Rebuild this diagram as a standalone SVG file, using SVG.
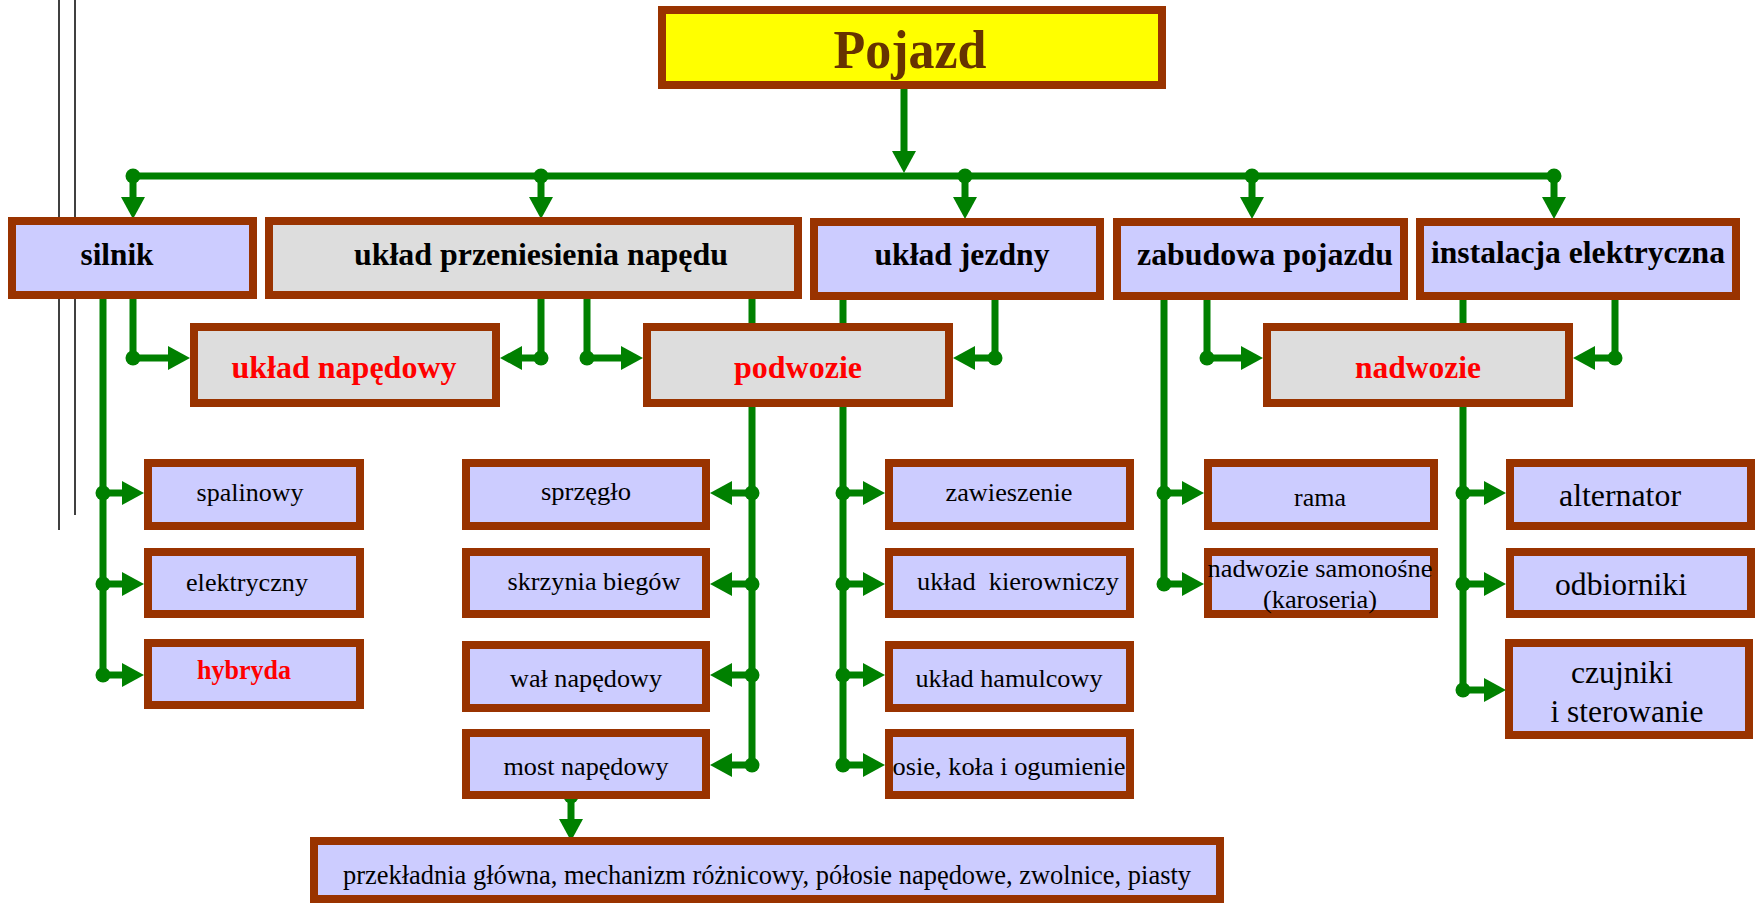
<svg xmlns="http://www.w3.org/2000/svg" width="1760" height="903" viewBox="0 0 1760 903">
<style>
.box{stroke:#993300;stroke-width:8}
.blue{fill:#CCCCFF}
.gray{fill:#DDDDDD}
.yel{fill:#FFFF00}
.t{font-family:"Liberation Serif","Times New Roman",serif;text-anchor:middle;fill:#000}
.b{font-weight:bold}
.red{fill:#FF0000}
.c{fill:none;stroke:#008000;stroke-width:7}
.dot{fill:#008000}
</style>
<defs>
<marker id="arr" markerUnits="userSpaceOnUse" markerWidth="24" markerHeight="26" refX="1" refY="12" orient="auto" viewBox="0 0 24 26">
<path d="M0,0 L22,12 L0,24 z" fill="#008000"/>
</marker>
</defs>
<g id="side-lines" stroke="#000" stroke-width="1.5">
<line x1="59" y1="0" x2="59" y2="530"/>
<line x1="75" y1="0" x2="75" y2="515"/>
</g>
<g id="connectors">
<path class="c" d="M904,86 V152" marker-end="url(#arr)"/>
<path class="c" d="M133,176 H1554"/>
<path class="c" d="M133,176 V198" marker-end="url(#arr)"/>
<path class="c" d="M541,176 V198" marker-end="url(#arr)"/>
<path class="c" d="M965,176 V198" marker-end="url(#arr)"/>
<path class="c" d="M1252,176 V198" marker-end="url(#arr)"/>
<path class="c" d="M1554,176 V198" marker-end="url(#arr)"/>
<path class="c" d="M133,299 V358 H169" marker-end="url(#arr)"/>
<path class="c" d="M541,299 V358 H521" marker-end="url(#arr)"/>
<path class="c" d="M587,299 V358 H622" marker-end="url(#arr)"/>
<path class="c" d="M995,300 V358 H974" marker-end="url(#arr)"/>
<path class="c" d="M1207,300 V358 H1242" marker-end="url(#arr)"/>
<path class="c" d="M1615,300 V358 H1594" marker-end="url(#arr)"/>
<path class="c" d="M103,299 V675"/>
<path class="c" d="M103,493 H123" marker-end="url(#arr)"/>
<path class="c" d="M103,584 H123" marker-end="url(#arr)"/>
<path class="c" d="M103,675 H123" marker-end="url(#arr)"/>
<path class="c" d="M752,299 V765"/>
<path class="c" d="M752,493 H731" marker-end="url(#arr)"/>
<path class="c" d="M752,584 H731" marker-end="url(#arr)"/>
<path class="c" d="M752,675 H731" marker-end="url(#arr)"/>
<path class="c" d="M752,765 H731" marker-end="url(#arr)"/>
<path class="c" d="M843,300 V765"/>
<path class="c" d="M843,493 H864" marker-end="url(#arr)"/>
<path class="c" d="M843,584 H864" marker-end="url(#arr)"/>
<path class="c" d="M843,675 H864" marker-end="url(#arr)"/>
<path class="c" d="M843,765 H864" marker-end="url(#arr)"/>
<path class="c" d="M1164,300 V584"/>
<path class="c" d="M1164,493 H1183" marker-end="url(#arr)"/>
<path class="c" d="M1164,584 H1183" marker-end="url(#arr)"/>
<path class="c" d="M1463,300 V690"/>
<path class="c" d="M1463,493 H1485" marker-end="url(#arr)"/>
<path class="c" d="M1463,584 H1485" marker-end="url(#arr)"/>
<path class="c" d="M1463,690 H1485" marker-end="url(#arr)"/>
<path class="c" d="M571,796 V820" marker-end="url(#arr)"/>
<g class="dot">
<circle cx="133" cy="176" r="7.5"/><circle cx="541" cy="176" r="7.5"/><circle cx="965" cy="176" r="7.5"/><circle cx="1252" cy="176" r="7.5"/><circle cx="1554" cy="176" r="7.5"/>
<circle cx="133" cy="358" r="7.5"/><circle cx="541" cy="358" r="7.5"/><circle cx="587" cy="358" r="7.5"/><circle cx="995" cy="358" r="7.5"/><circle cx="1207" cy="358" r="7.5"/><circle cx="1615" cy="358" r="7.5"/>
<circle cx="103" cy="493" r="7.5"/><circle cx="103" cy="584" r="7.5"/><circle cx="103" cy="675" r="7.5"/>
<circle cx="752" cy="493" r="7.5"/><circle cx="752" cy="584" r="7.5"/><circle cx="752" cy="675" r="7.5"/><circle cx="752" cy="765" r="7.5"/>
<circle cx="843" cy="493" r="7.5"/><circle cx="843" cy="584" r="7.5"/><circle cx="843" cy="675" r="7.5"/><circle cx="843" cy="765" r="7.5"/>
<circle cx="1164" cy="493" r="7.5"/><circle cx="1164" cy="584" r="7.5"/>
<circle cx="1463" cy="493" r="7.5"/><circle cx="1463" cy="584" r="7.5"/><circle cx="1463" cy="690" r="7.5"/>
<circle cx="571" cy="796" r="7.5"/>
</g>
</g>
<g id="pojazd"><rect class="box yel" x="662" y="10" width="500" height="75"/><text class="t b" x="910" y="68" font-size="54" style="fill:#663300" textLength="153" lengthAdjust="spacingAndGlyphs">Pojazd</text></g>
<g id="silnik"><rect class="box blue" x="12" y="221" width="241" height="74"/><text class="t b" x="117" y="265" font-size="31" textLength="73" lengthAdjust="spacingAndGlyphs">silnik</text></g>
<g id="uklad-przeniesienia"><rect class="box gray" x="269" y="221" width="529" height="74"/><text class="t b" x="541" y="265" font-size="31" textLength="374" lengthAdjust="spacingAndGlyphs">układ przeniesienia napędu</text></g>
<g id="uklad-jezdny"><rect class="box blue" x="814" y="222" width="286" height="74"/><text class="t b" x="962" y="265" font-size="31" textLength="175" lengthAdjust="spacingAndGlyphs">układ jezdny</text></g>
<g id="zabudowa"><rect class="box blue" x="1117" y="222" width="287" height="74"/><text class="t b" x="1265" y="265" font-size="31" textLength="256" lengthAdjust="spacingAndGlyphs">zabudowa pojazdu</text></g>
<g id="instalacja"><rect class="box blue" x="1420" y="222" width="316" height="74"/><text class="t b" x="1578" y="263" font-size="31" textLength="294" lengthAdjust="spacingAndGlyphs">instalacja elektryczna</text></g>
<g id="uklad-napedowy"><rect class="box gray" x="194" y="327" width="302" height="76"/><text class="t b red" x="344" y="378" font-size="32" textLength="225" lengthAdjust="spacingAndGlyphs">układ napędowy</text></g>
<g id="podwozie"><rect class="box gray" x="647" y="327" width="302" height="76"/><text class="t b red" x="798" y="378" font-size="32" textLength="128" lengthAdjust="spacingAndGlyphs">podwozie</text></g>
<g id="nadwozie"><rect class="box gray" x="1267" y="327" width="302" height="76"/><text class="t b red" x="1418" y="378" font-size="32" textLength="126" lengthAdjust="spacingAndGlyphs">nadwozie</text></g>
<g id="spalinowy"><rect class="box blue" x="148" y="463" width="212" height="63"/><text class="t" x="250" y="501" font-size="26" textLength="107" lengthAdjust="spacingAndGlyphs">spalinowy</text></g>
<g id="elektryczny"><rect class="box blue" x="148" y="552" width="212" height="62"/><text class="t" x="247" y="591" font-size="26" textLength="122" lengthAdjust="spacingAndGlyphs">elektryczny</text></g>
<g id="hybryda"><rect class="box blue" x="148" y="643" width="212" height="62"/><text class="t b red" x="244" y="679" font-size="27" textLength="94" lengthAdjust="spacingAndGlyphs">hybryda</text></g>
<g id="sprzeglo"><rect class="box blue" x="466" y="463" width="240" height="63"/><text class="t" x="586" y="500" font-size="26" textLength="90" lengthAdjust="spacingAndGlyphs">sprzęgło</text></g>
<g id="skrzynia"><rect class="box blue" x="466" y="552" width="240" height="62"/><text class="t" x="594" y="590" font-size="26" textLength="173" lengthAdjust="spacingAndGlyphs">skrzynia biegów</text></g>
<g id="wal"><rect class="box blue" x="466" y="645" width="240" height="63"/><text class="t" x="586" y="687" font-size="26" textLength="152" lengthAdjust="spacingAndGlyphs">wał napędowy</text></g>
<g id="most"><rect class="box blue" x="466" y="733" width="240" height="62"/><text class="t" x="586" y="775" font-size="26" textLength="165" lengthAdjust="spacingAndGlyphs">most napędowy</text></g>
<g id="zawieszenie"><rect class="box blue" x="889" y="463" width="241" height="63"/><text class="t" x="1009" y="501" font-size="26" textLength="127" lengthAdjust="spacingAndGlyphs">zawieszenie</text></g>
<g id="kierowniczy"><rect class="box blue" x="889" y="552" width="241" height="62"/><text class="t" x="1018" y="590" font-size="26" textLength="202" lengthAdjust="spacingAndGlyphs">układ&#160; kierowniczy</text></g>
<g id="hamulcowy"><rect class="box blue" x="889" y="645" width="241" height="63"/><text class="t" x="1009" y="687" font-size="26" textLength="187" lengthAdjust="spacingAndGlyphs">układ hamulcowy</text></g>
<g id="osie"><rect class="box blue" x="889" y="733" width="241" height="62"/><text class="t" x="1009" y="775" font-size="26" textLength="233" lengthAdjust="spacingAndGlyphs">osie, koła i ogumienie</text></g>
<g id="rama"><rect class="box blue" x="1208" y="463" width="226" height="63"/><text class="t" x="1320" y="506" font-size="26" textLength="52" lengthAdjust="spacingAndGlyphs">rama</text></g>
<g id="samonosne"><rect class="box blue" x="1208" y="552" width="226" height="62"/><text class="t" x="1320" y="577" font-size="26" textLength="225" lengthAdjust="spacingAndGlyphs">nadwozie samonośne</text><text class="t" x="1320" y="608" font-size="26" textLength="114" lengthAdjust="spacingAndGlyphs">(karoseria)</text></g>
<g id="alternator"><rect class="box blue" x="1510" y="463" width="241" height="63"/><text class="t" x="1620" y="506" font-size="31" textLength="122" lengthAdjust="spacingAndGlyphs">alternator</text></g>
<g id="odbiorniki"><rect class="box blue" x="1510" y="552" width="241" height="62"/><text class="t" x="1621" y="595" font-size="31" textLength="132" lengthAdjust="spacingAndGlyphs">odbiorniki</text></g>
<g id="czujniki"><rect class="box blue" x="1509" y="643" width="240" height="92"/><text class="t" x="1622" y="683" font-size="31" textLength="102" lengthAdjust="spacingAndGlyphs">czujniki</text><text class="t" x="1627" y="722" font-size="31" textLength="153" lengthAdjust="spacingAndGlyphs">i sterowanie</text></g>
<g id="przekladnia"><rect class="box blue" x="314" y="841" width="906" height="58"/><text class="t" x="767" y="884" font-size="26.5" textLength="848" lengthAdjust="spacingAndGlyphs">przekładnia główna, mechanizm różnicowy, półosie napędowe, zwolnice, piasty</text></g>
</svg>
